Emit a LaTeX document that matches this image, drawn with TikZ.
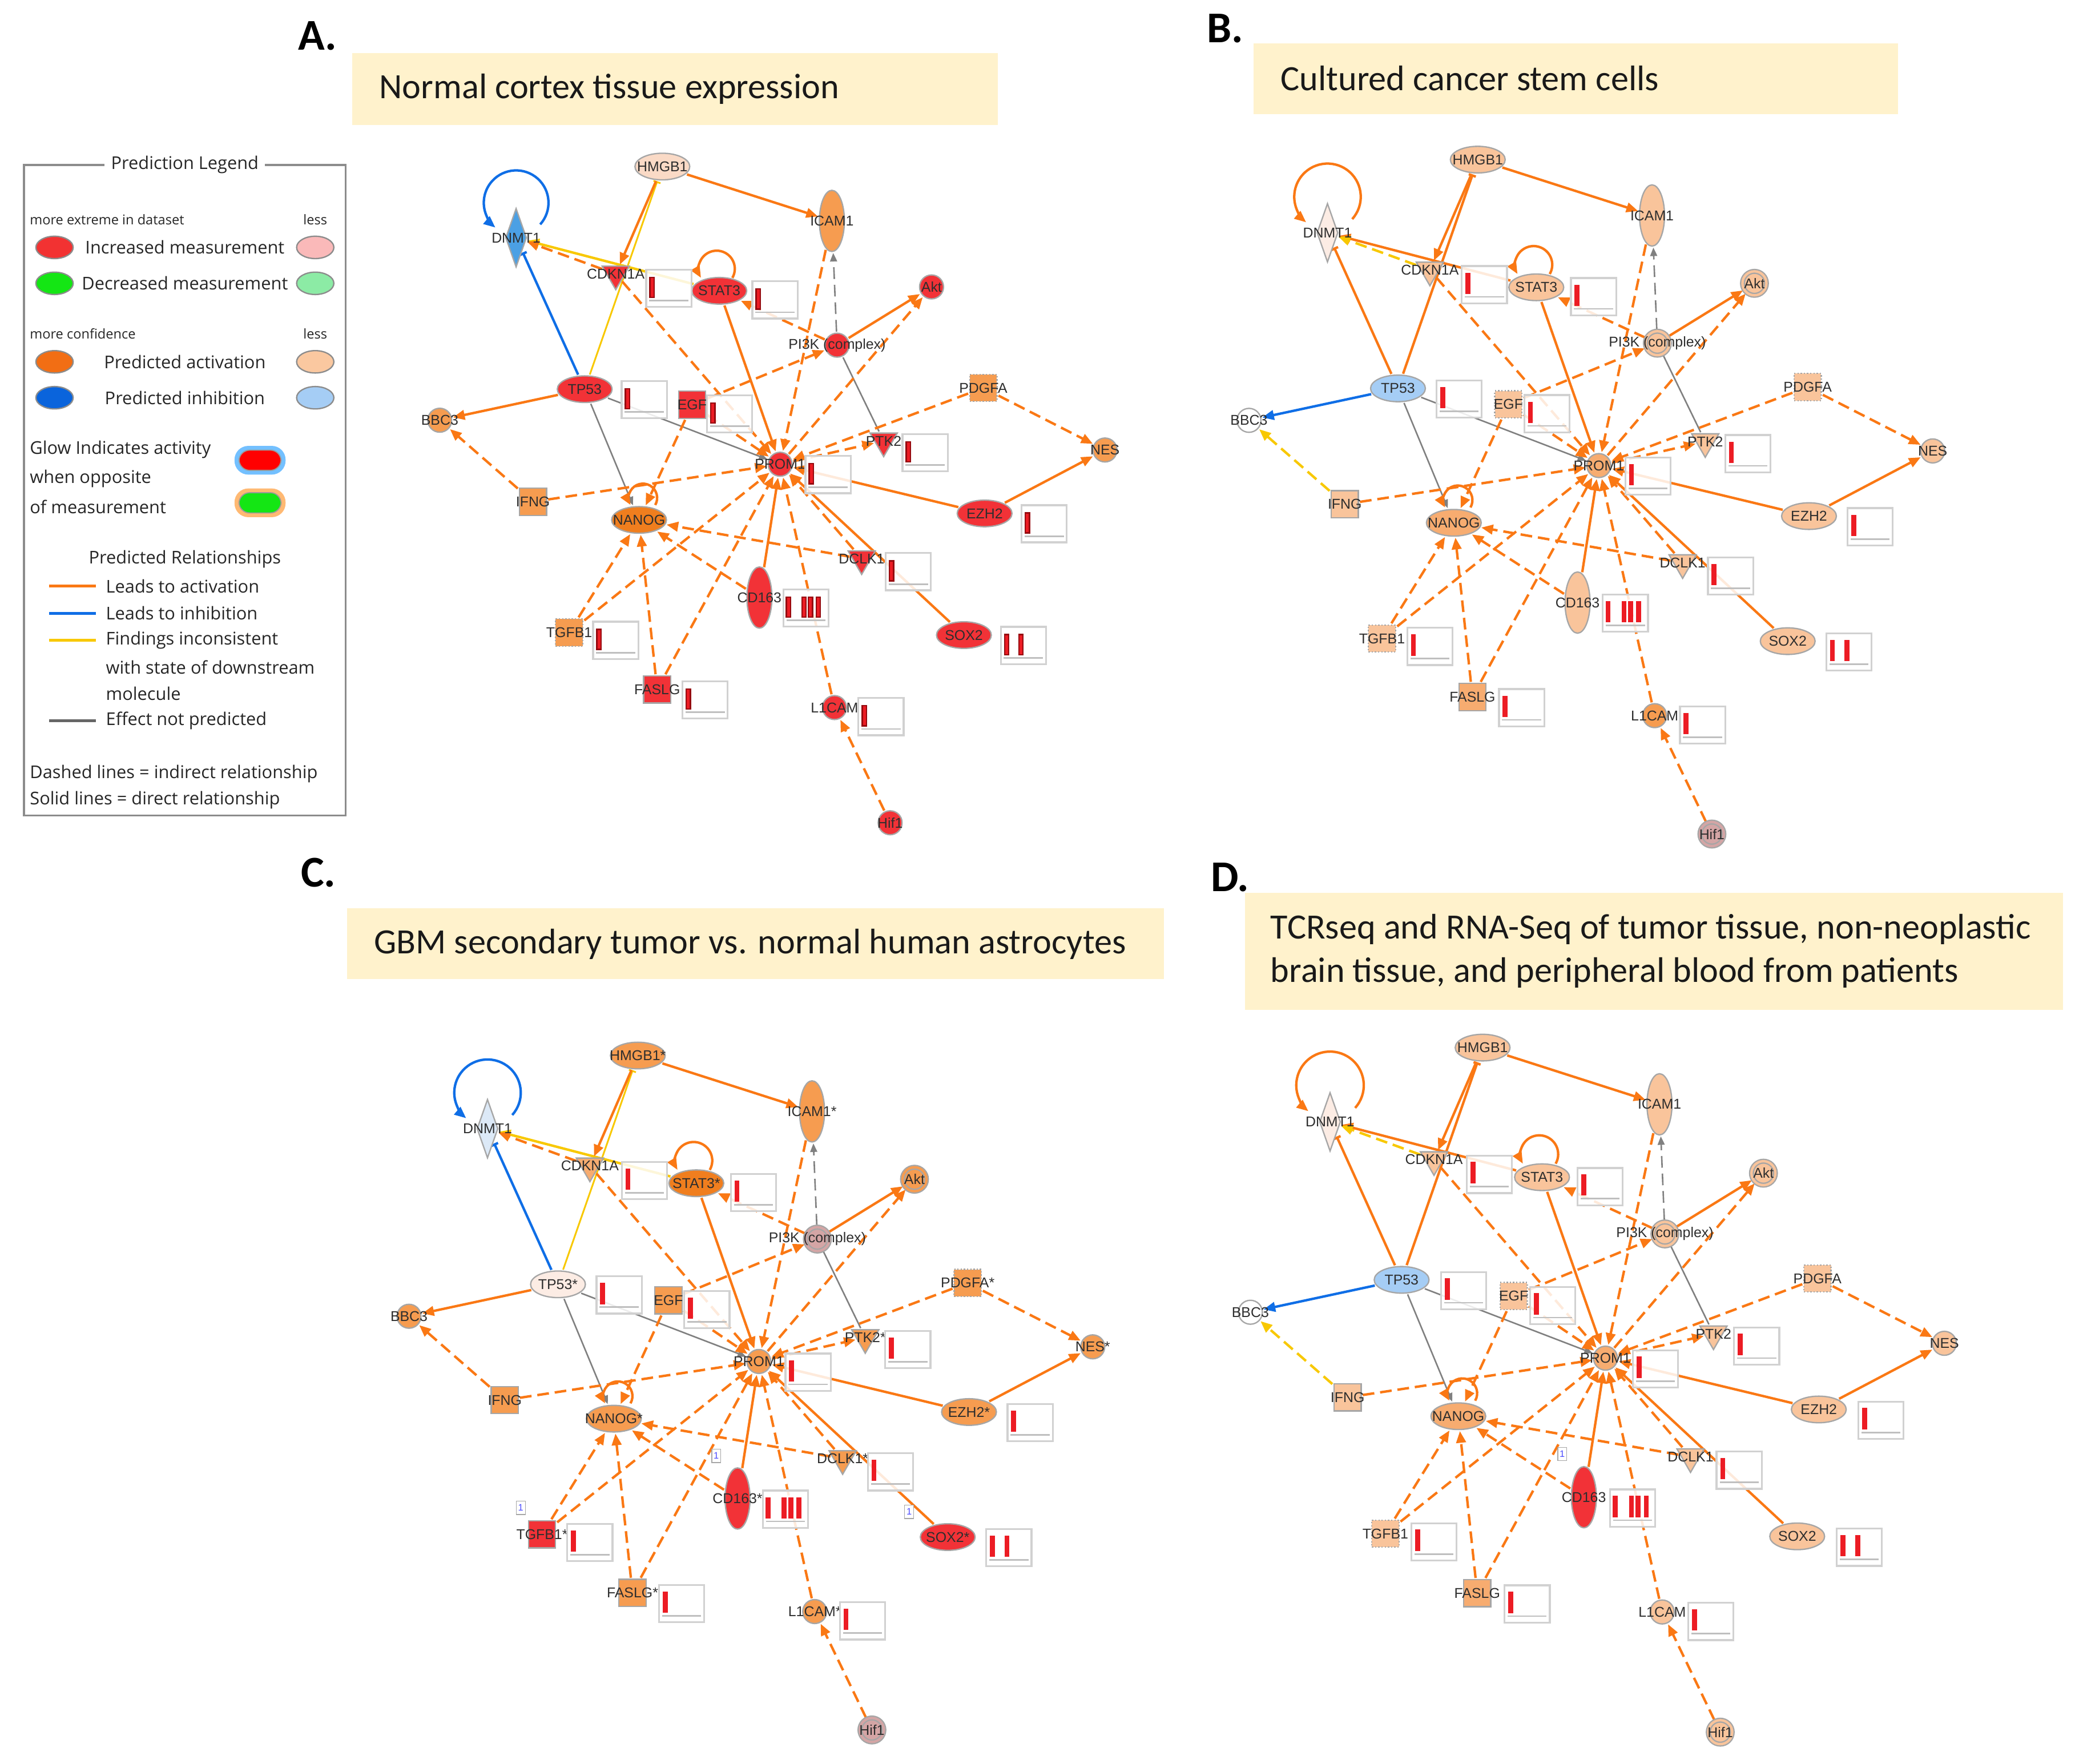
\documentclass[tikz,border=0pt]{standalone}
\usepackage{fontspec}
\setmainfont{Carlito}
\newfontfamily\lblfont{Liberation Sans}
\newfontfamily\legfont{Open Sans}
\usetikzlibrary{arrows.meta,shapes.geometric,calc}
\pgfdeclarelayer{bg}
\pgfdeclarelayer{edges}
\pgfsetlayers{bg,edges,main}

\definecolor{eor}{RGB}{250,120,20}
\definecolor{ebl}{RGB}{15,110,230}
\definecolor{eyl}{RGB}{248,200,0}
\definecolor{egr}{RGB}{128,128,128}
\definecolor{nred}{RGB}{242,50,55}
\definecolor{nor}{RGB}{246,156,80}
\definecolor{ndor}{RGB}{240,126,30}
\definecolor{nmor}{RGB}{247,172,112}
\definecolor{npk}{RGB}{249,196,155}
\definecolor{nlpk}{RGB}{250,218,198}
\definecolor{nvl}{RGB}{252,236,228}
\definecolor{nbl}{RGB}{75,160,228}
\definecolor{nlb}{RGB}{165,205,245}
\definecolor{nvlb}{RGB}{220,233,247}
\definecolor{ngr}{RGB}{212,165,165}
\definecolor{tbg}{RGB}{255,242,204}
\definecolor{barc}{RGB}{236,28,36}
\definecolor{dbarc}{RGB}{150,10,15}
\definecolor{lred}{RGB}{242,50,50}
\definecolor{lpink}{RGB}{250,185,185}
\definecolor{lgreen}{RGB}{20,230,20}
\definecolor{llgreen}{RGB}{140,235,165}
\definecolor{lorange}{RGB}{242,110,20}
\definecolor{lpeach}{RGB}{250,200,160}
\definecolor{lblue}{RGB}{10,100,220}
\definecolor{llblue}{RGB}{165,205,245}

\tikzset{
 gene/.style={draw=black!35, line width=0.25mm, inner sep=0pt, outer sep=0.3mm},
 ell/.style={gene, ellipse, minimum width=10.3mm, minimum height=5mm},
 vell/.style={gene, ellipse, minimum width=4.7mm, minimum height=11.5mm},
 circ/.style={gene, circle, minimum size=4.5mm},
 dia/.style={gene, diamond, minimum width=4.1mm, minimum height=11.2mm},
 tri/.style={gene, regular polygon, regular polygon sides=3, shape border rotate=180, minimum size=5.9mm},
 sq/.style={gene, rectangle, minimum size=5.1mm},
 ring/.style={double distance=0.45mm},
 lbl/.style={font=\lblfont\fontsize{7.6}{8}\selectfont, text=black!82, inner sep=0pt},
 ln/.style={line width=0.46mm},
 lg/.style={draw=egr, line width=0.28mm},
 eo/.style={draw=eor},
 dsh/.style={dash pattern=on 2.2mm off 1.1mm},
 ta/.style={-{Triangle[length=2.2mm,width=1.8mm]}},
 tg/.style={-{Triangle[length=1.6mm,width=1.3mm]}},
 tb/.style={-{Bar[width=1.4mm]}},
 mbox/.style={rectangle, draw=black!18, line width=0.35mm, fill=white, fill opacity=0.85, minimum width=8.5mm, minimum height=7mm, inner sep=0pt},
 mbase/.style={draw=black!25, line width=0.3mm},
 mbar/.style={fill=barc, draw=barc, line width=0.1mm},
 onebox/.style={draw=black!35, fill=white, inner sep=0.3mm, minimum width=1.7mm, minimum height=2.5mm, font=\lblfont\fontsize{5}{5}\selectfont, text=blue!70},
 ttl/.style={font=\fontsize{19}{23}\selectfont, inner sep=0pt, text=black!90},
 plab/.style={font=\bfseries\fontsize{23.5}{26}\selectfont, inner sep=0pt},
 legt/.style={font=\legfont\fontsize{9.4}{11}\selectfont, text=black!85, inner sep=0.5pt},
 legs/.style={font=\legfont\fontsize{7.2}{8}\selectfont, text=black!85, inner sep=0.5pt},
 lege/.style={ellipse, draw=black!45, line width=0.25mm, minimum width=7mm, minimum height=4.2mm, inner sep=0pt},
 % default node fills (panels B/D)
 fHMGB1/.style={fill=npk}, fDNMT1/.style={fill=nvl}, fICAM1/.style={fill=npk},
 fCDKN1A/.style={fill=npk}, fSTAT3/.style={fill=npk}, fAkt/.style={fill=npk,ring,double=npk},
 fPI3K/.style={fill=npk,ring,double=npk}, fTP53/.style={fill=nlb}, fEGF/.style={fill=npk,densely dotted},
 fPDGFA/.style={fill=npk,densely dotted}, fBBC3/.style={fill=white}, fPTK2/.style={fill=npk},
 fNES/.style={fill=npk}, fPROM1/.style={fill=nmor}, fIFNG/.style={fill=npk},
 fNANOG/.style={fill=nmor}, fEZH2/.style={fill=npk}, fDCLK1/.style={fill=npk},
 fCD163/.style={fill=nred}, fTGFB1/.style={fill=npk,densely dotted}, fSOX2/.style={fill=npk},
 fFASLG/.style={fill=nmor}, fL1CAM/.style={fill=npk}, fHif/.style={fill=npk,ring,double=npk},
 % default variable edge colours (panels B/D)
 cSelf/.style={draw=eor}, cTPdn/.style={draw=eor}, cTPhm/.style={draw=eor},
 cSTdn/.style={draw=eor}, cCDdn/.style={draw=eyl}, cTPbb/.style={draw=ebl}, cIFbb/.style={draw=eyl},
 % panel A / C variable edge colours
 panelAC/.style={cSelf/.style={draw=ebl}, cTPdn/.style={draw=ebl}, cTPhm/.style={draw=eyl,line width=0.32mm},
   cSTdn/.style={draw=eyl}, cCDdn/.style={draw=eor}, cTPbb/.style={draw=eor}, cIFbb/.style={draw=eor}},
}

\newcommand\st{}

\newcommand\measbx[4]{%
  \node[mbox] (#1bx) at ([shift={(#2,#3)}]#1.center) {};
  \draw[mbase] ([shift={(3,5.5)}]#1bx.south west) -- ([shift={(-3,5.5)}]#1bx.south east);
  \foreach \bb in {#4} {\filldraw[mbar] ([shift={(\bb,8)}]#1bx.south west) rectangle ++(3.3,15.5);}%
}

\newcommand\netnodes{%
 \node[ell,fHMGB1,label={[lbl]center:HMGB1\st}] (HMGB1) at (-91,230) {};
 \node[dia,fDNMT1,label={[lbl]center:DNMT1}] (DNMT1) at (-204,175) {};
 \node[vell,fICAM1,label={[lbl]center:ICAM1\st}] (ICAM1) at (40,188) {};
 \node[tri,fCDKN1A,label={[lbl]center:CDKN1A}] (CDKN1A) at (-127,147) {};
 \node[ell,fSTAT3,label={[lbl]center:STAT3\st}] (STAT3) at (-47,134) {};
 \node[circ,fAkt,label={[lbl]center:Akt}] (Akt) at (117,137) {};
 \node[circ,fPI3K,label={[lbl]center:PI3K (complex)}] (PI3K) at (44,92) {};
 \node[ell,fTP53,label={[lbl]center:TP53\st}] (TP53) at (-151,58) {};
 \node[sq,fEGF,label={[lbl]center:EGF}] (EGF) at (-68,46) {};
 \node[sq,fPDGFA,label={[lbl]center:PDGFA\st}] (PDGFA) at (157,59) {};
 \node[circ,fBBC3,label={[lbl]center:BBC3}] (BBC3) at (-263,34) {};
 \node[tri,fPTK2,label={[lbl]center:PTK2\st}] (PTK2) at (80,18) {};
 \node[circ,fNES,label={[lbl]center:NES\st}] (NES) at (251,11) {};
 \node[circ,fPROM1,label={[lbl]center:PROM1}] (PROM1) at (0,0) {};
 \node[sq,fIFNG,label={[lbl]center:IFNG}] (IFNG) at (-191,-29) {};
 \node[ell,fNANOG,label={[lbl]center:NANOG\st}] (NANOG) at (-109,-43) {};
 \node[ell,fEZH2,label={[lbl]center:EZH2\st}] (EZH2) at (158,-38) {};
 \node[tri,fDCLK1,label={[lbl]center:DCLK1\st}] (DCLK1) at (63,-73) {};
 \node[vell,fCD163,label={[lbl]center:CD163\st}] (CD163) at (-16,-103) {};
 \node[sq,fTGFB1,label={[lbl]center:TGFB1\st}] (TGFB1) at (-163,-130) {};
 \node[ell,fSOX2,label={[lbl]center:SOX2\st}] (SOX2) at (142,-132) {};
 \node[sq,fFASLG,label={[lbl]center:FASLG\st}] (FASLG) at (-95,-174) {};
 \node[circ,fL1CAM,label={[lbl]center:L1CAM\st}] (L1CAM) at (42,-188) {};
 \node[circ,fHif,label={[lbl]center:Hif1}] (Hif1) at (85,-277) {};
}

\newcommand\netedges{%
 \draw[ln,cSelf,ta] ([shift={(18.6,10.3)}]DNMT1.center) arc[start angle=-42,end angle=230,radius=25];
 \draw[ln,cTPdn,tb] (TP53) -- (DNMT1);
 \draw[ln,cTPhm,tb] (TP53) -- (HMGB1);
 \draw[ln,cSTdn,ta] (STAT3) -- (DNMT1);
 \draw[ln,dsh,cCDdn,ta] (CDKN1A) -- (DNMT1);
 \draw[ln,eo,ta] (HMGB1) -- (CDKN1A);
 \draw[ln,eo,ta] (HMGB1) -- (ICAM1);
 \draw[ln,cTPbb,ta] (TP53) -- (BBC3);
 \draw[ln,dsh,cIFbb,ta] (IFNG) -- (BBC3);
 \draw[lg,tg] (TP53) -- (NANOG);
 \draw[lg,tg] (TP53) -- (PROM1);
 \draw[ln,eo,ta] ([shift={(10.1,10)}]STAT3.center) arc[start angle=-30,end angle=210,radius=14];
 \draw[ln,eo,ta] (STAT3) -- (PROM1);
 \draw[ln,dsh,eo,ta] (PI3K) -- (STAT3);
 \draw[lg,dsh,tg] (PI3K) -- (ICAM1);
 \draw[ln,eo,ta] (PI3K) -- (Akt);
 \draw[lg] (PI3K) -- (PTK2);
 \draw[ln,dsh,eo,ta] (EGF) -- (PI3K);
 \draw[ln,dsh,eo,ta] (EGF) -- (PROM1);
 \draw[ln,dsh,eo,ta] (EGF) -- (NANOG);
 \draw[ln,dsh,eo,ta] (ICAM1) -- (PROM1);
 \draw[ln,dsh,eo,ta] (PROM1) -- (Akt);
 \draw[ln,dsh,eo,ta] (PDGFA) -- (PROM1);
 \draw[ln,dsh,eo,ta] (PDGFA) -- (NES);
 \draw[ln,eo,ta] (EZH2) -- (NES);
 \draw[ln,eo,ta] (EZH2) -- (PROM1);
 \draw[ln,dsh,eo,ta] (PROM1) -- (PTK2);
 \draw[ln,dsh,eo,ta] (IFNG) -- (PROM1);
 \draw[ln,eo,ta] ([shift={(12.5,11.5)}]NANOG.center) arc[start angle=-30,end angle=210,radius=11];
 \draw[ln,dsh,eo,ta] (DCLK1) -- (NANOG);
 \draw[ln,dsh,eo,ta] (DCLK1) -- (PROM1);
 \draw[ln,eo,ta] (SOX2) -- (PROM1);
 \draw[ln,dsh,eo,ta] (CD163) -- (NANOG);
 \draw[ln,eo,ta] (CD163) -- (PROM1);
 \draw[ln,dsh,eo,ta] (TGFB1) -- (NANOG);
 \draw[ln,dsh,eo,ta] (TGFB1) -- (PROM1);
 \draw[ln,dsh,eo,ta] (FASLG) -- (NANOG);
 \draw[ln,dsh,eo,ta] (FASLG) -- (PROM1);
 \draw[ln,dsh,eo,ta] (L1CAM) -- (PROM1);
 \draw[ln,dsh,eo,ta] (Hif1) -- (L1CAM);
 \draw[ln,dsh,eo,ta] (CDKN1A) -- (PROM1);
}

\newcommand\netboxes{%
 \measbx{CDKN1A}{41}{-11}{3.6}%
 \measbx{STAT3}{43}{-7}{3.6}%
 \measbx{TP53}{46}{-8}{3.6}%
 \measbx{EGF}{29}{-7}{3.6}%
 \measbx{PTK2}{32}{-9}{3.6}%
 \measbx{PROM1}{37}{-8}{3.6}%
 \measbx{EZH2}{46}{-8}{3.6}%
 \measbx{DCLK1}{36}{-10}{3.6}%
 \measbx{CD163}{36}{-8}{3,15,20,26}%
 \measbx{TGFB1}{36}{-6}{3.6}%
 \measbx{SOX2}{46}{-8}{3.6,14.6}%
 \measbx{FASLG}{37}{-8}{3.6}%
 \measbx{L1CAM}{36}{-7}{3.6}%
}

\newcommand\fullnet{%
 \netnodes
 \begin{pgfonlayer}{edges}\netedges\end{pgfonlayer}
 \netboxes
}

\begin{document}
\begin{tikzpicture}[x=0.25mm,y=0.25mm]
\begin{pgfonlayer}{bg}
\fill[white] (0,0) rectangle (1560,-1326);
\end{pgfonlayer}
\path[use as bounding box] (0,0) rectangle (1560,-1326);

% ---------- panel letters and titles ----------
\node[plab, anchor=west] (labA) at (224,-27) {A.};
\node[plab, anchor=west] (labB) at (907,-21.5) {B.};
\node[plab, anchor=west] (labC) at (226,-656) {C.};
\node[plab, anchor=west] (labD) at (910,-659.5) {D.};

\fill[tbg] (265,-40) rectangle (750,-94);
\node[ttl, anchor=west] (tA) at (285,-67) {Normal cortex tissue expression};
\fill[tbg] (942.5,-32.6) rectangle (1427,-85.8);
\node[ttl, anchor=west] (tB) at (962.5,-59) {Cultured cancer stem cells};
\fill[tbg] (261,-683) rectangle (875,-736);
\node[ttl, anchor=west] (tC) at (281,-710) {GBM secondary tumor vs. normal human astrocytes};
\fill[tbg] (936,-671) rectangle (1551,-759);
\node[ttl, anchor=west, align=left] (tD) at (955,-715) {TCRseq and RNA-Seq of tumor tissue, non-neoplastic\\brain tissue, and peripheral blood from patients};

% ---------- legend ----------
\draw[black!45, line width=0.35mm] (18,-124) rectangle (260,-613);
\node[legt, fill=white, inner xsep=1.2mm] (lgT) at (139,-124) {Prediction Legend};
\node[legs, anchor=west] (lg1) at (21.5,-165) {more extreme in dataset};
\node[legs] (lg2) at (237,-165) {less};
\node[lege, fill=lred] (le1) at (41,-186) {};
\node[legt] (lt1) at (139,-186) {Increased measurement};
\node[lege, fill=lpink] (le2) at (237,-186) {};
\node[lege, fill=lgreen] (le3) at (41,-213) {};
\node[legt] (lt2) at (139,-213) {Decreased measurement};
\node[lege, fill=llgreen] (le4) at (237,-213) {};
\node[legs, anchor=west] (lg3) at (21.5,-251) {more confidence};
\node[legs] (lg4) at (237,-251) {less};
\node[lege, fill=lorange] (le5) at (41,-272) {};
\node[legt] (lt3) at (139,-272) {Predicted activation};
\node[lege, fill=lpeach] (le6) at (237,-272) {};
\node[lege, fill=lblue] (le7) at (41,-299) {};
\node[legt] (lt4) at (139,-299) {Predicted inhibition};
\node[lege, fill=llblue] (le8) at (237,-299) {};
\node[legt, anchor=west] (lt5) at (21.5,-338) {Glow Indicates activity};
\node[legt, anchor=west] (lt6) at (21.5,-360) {when opposite};
\node[legt, anchor=west] (lt7) at (21.5,-381) {of measurement};
\node[rectangle, rounded corners=2.6mm, fill=blue!45!cyan!55, minimum width=9.6mm, minimum height=5.4mm, inner sep=0pt] (glb) at (195.5,-346) {};
\node[rectangle, rounded corners=2mm, fill=red, draw=black!40, line width=0.2mm, minimum width=7.9mm, minimum height=3.8mm, inner sep=0pt] (glr) at (195.5,-346) {};
\node[rectangle, rounded corners=2.6mm, fill=orange!55, minimum width=9.6mm, minimum height=5.4mm, inner sep=0pt] (glo) at (195.5,-378) {};
\node[rectangle, rounded corners=2mm, fill=lgreen, draw=black!40, line width=0.2mm, minimum width=7.9mm, minimum height=3.8mm, inner sep=0pt] (glg) at (195.5,-378) {};
\node[legt] (lt8) at (139,-420.3) {Predicted Relationships};
\coordinate (r1a) at (37,-440.7); \coordinate (r1b) at (72,-440.7);
\coordinate (r2a) at (37,-461); \coordinate (r2b) at (72,-461);
\coordinate (r3a) at (37,-481.4); \coordinate (r3b) at (72,-481.4);
\coordinate (r4a) at (37,-541.7); \coordinate (r4b) at (72,-541.7);
\draw[eor, line width=0.55mm] (r1a) -- (r1b);
\draw[ebl, line width=0.55mm] (r2a) -- (r2b);
\draw[eyl, line width=0.55mm] (r3a) -- (r3b);
\draw[black!60, line width=0.55mm] (r4a) -- (r4b);
\node[legt, anchor=west] (lt9) at (78.7,-440.7) {Leads to activation};
\node[legt, anchor=west] (lt10) at (78.7,-461) {Leads to inhibition};
\node[legt, anchor=west] (lt11) at (78.7,-481.4) {Findings inconsistent};
\node[legt, anchor=west] (lt12) at (78.7,-501.8) {with state of downstream};
\node[legt, anchor=west] (lt13) at (78.7,-521.6) {molecule};
\node[legt, anchor=west] (lt14) at (78.7,-541.7) {Effect not predicted};
\node[legt, anchor=west] (lt15) at (21.5,-581.7) {Dashed lines = indirect relationship};
\node[legt, anchor=west] (lt16) at (21.5,-601.5) {Solid lines = direct relationship};

% ---------- panel A ----------
\begin{scope}[shift={(586.5,-349)}, scale=0.973, name prefix=A-, panelAC,
 fHMGB1/.style={fill=nlpk}, fDNMT1/.style={fill=nbl}, fICAM1/.style={fill=nor},
 fCDKN1A/.style={fill=nred}, fSTAT3/.style={fill=nred}, fAkt/.style={fill=nred},
 fPI3K/.style={fill=nred}, fTP53/.style={fill=nred}, fEGF/.style={fill=nred},
 fPDGFA/.style={fill=nor,densely dotted}, fBBC3/.style={fill=nor}, fPTK2/.style={fill=nred},
 fNES/.style={fill=nor}, fPROM1/.style={fill=nred}, fIFNG/.style={fill=nor},
 fNANOG/.style={fill=ndor}, fEZH2/.style={fill=nred}, fDCLK1/.style={fill=nred},
 fCD163/.style={fill=nred}, fTGFB1/.style={fill=nor,densely dotted}, fSOX2/.style={fill=nred},
 fFASLG/.style={fill=nred}, fL1CAM/.style={fill=nred}, fHif/.style={fill=nred},
 mbar/.style={fill=barc, draw=dbarc, line width=0.25mm}]
 \fullnet
\end{scope}

% ---------- panel B ----------
\begin{scope}[shift={(1202,-350)}, name prefix=B-,
 fCD163/.style={fill=npk}, fL1CAM/.style={fill=nor}, fHif/.style={fill=ngr,ring,double=ngr}]
 \fullnet
\end{scope}

% ---------- panel C ----------
\begin{scope}[shift={(570.5,-1023.5)}, name prefix=C-, panelAC,
 fHMGB1/.style={fill=nor}, fDNMT1/.style={fill=nvlb}, fICAM1/.style={fill=nor},
 fCDKN1A/.style={fill=nmor}, fSTAT3/.style={fill=ndor}, fAkt/.style={fill=nor,ring,double=nor},
 fPI3K/.style={fill=ngr,ring,double=ngr}, fTP53/.style={fill=nvl}, fEGF/.style={fill=nor},
 fPDGFA/.style={fill=nor,densely dotted}, fBBC3/.style={fill=nor}, fPTK2/.style={fill=nor},
 fNES/.style={fill=nor}, fPROM1/.style={fill=nor}, fIFNG/.style={fill=nor},
 fNANOG/.style={fill=nor}, fEZH2/.style={fill=nor}, fDCLK1/.style={fill=nor},
 fCD163/.style={fill=nred}, fTGFB1/.style={fill=nred}, fSOX2/.style={fill=nred},
 fFASLG/.style={fill=nor}, fL1CAM/.style={fill=nor}, fHif/.style={fill=ngr,ring,double=ngr}]
 \def\st{*}
 \fullnet
 \node[onebox] (one1) at ([shift={(-16,32)}]CD163.center) {1};
 \node[onebox] (one2) at ([shift={(-16,20)}]TGFB1.center) {1};
 \node[onebox] (one3) at ([shift={(-29,19)}]SOX2.center) {1};
\end{scope}

% ---------- panel D ----------
\begin{scope}[shift={(1207,-1021)}, scale=1.015, name prefix=D-]
 \fullnet
 \node[onebox] (one4) at ([shift={(-16,32)}]CD163.center) {1};
\end{scope}
\end{tikzpicture}
\end{document}
